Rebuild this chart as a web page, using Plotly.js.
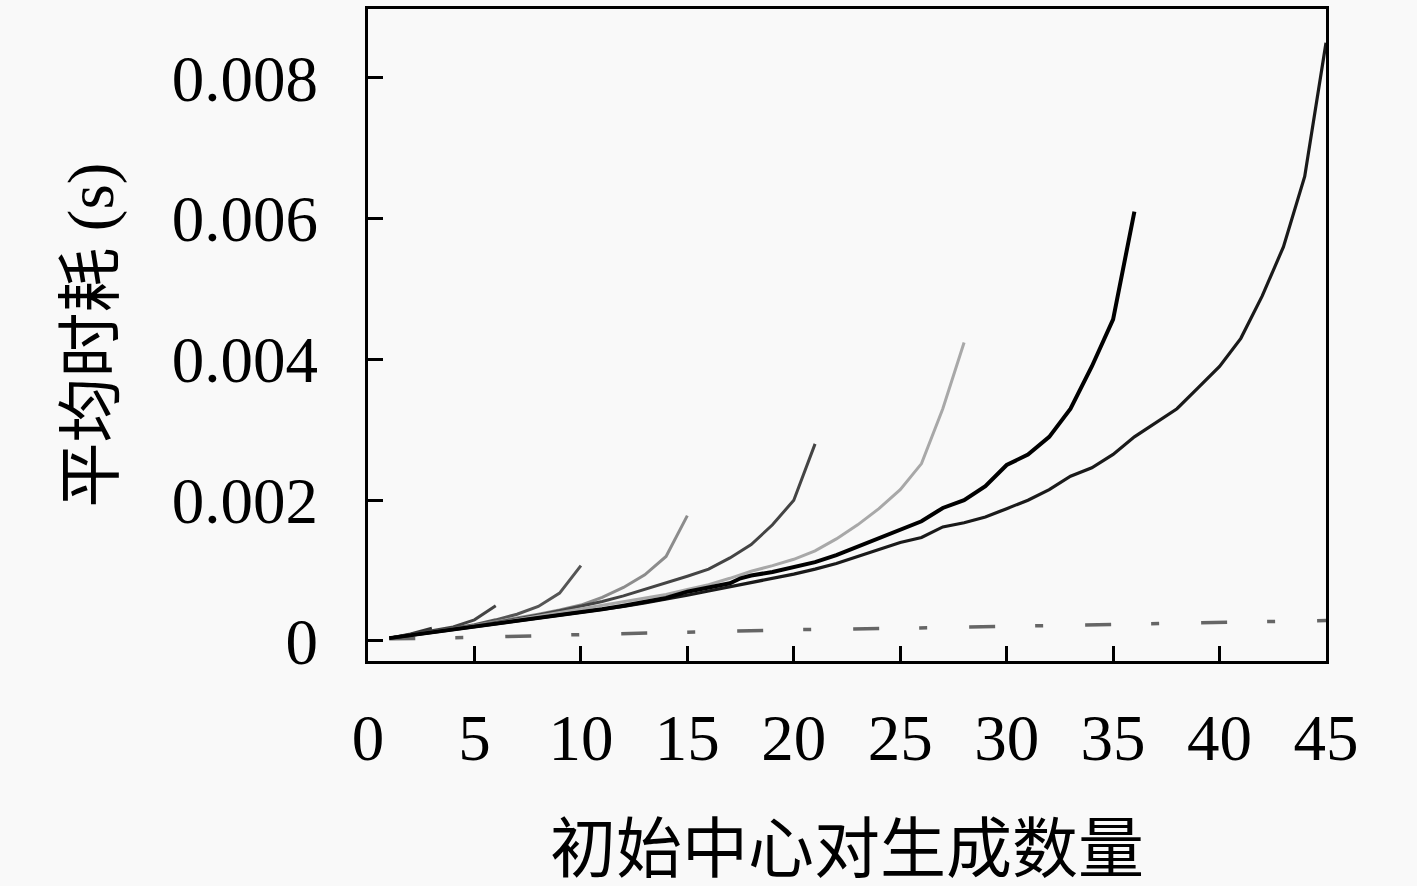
<!DOCTYPE html>
<html>
<head>
<meta charset="utf-8">
<script src="https://cdn.plot.ly/plotly-3.0.1.min.js"></script>
<style>
  html, body { margin: 0; padding: 0; background: #f9f9f9; }
  #chart { width: 1417px; height: 886px; }
</style>
</head>
<body>
<div id="chart"></div>
<script>
// x = 初始中心对数, y = 平均时耗 (s)
const X3 = [1, 2, 3];
const Y3 = [0.00004, 0.0001, 0.00018];

const X6 = [1, 2, 3, 4, 5, 6];
const Y6 = [0.00004, 0.00009, 0.00014, 0.0002, 0.0003, 0.0005];

const X10 = [1, 2, 3, 4, 5, 6, 7, 8, 9, 10];
const Y10 = [0.00004, 0.00008, 0.00013, 0.00018, 0.00023, 0.0003, 0.00038, 0.00049, 0.00068, 0.00107];

const X15 = [1, 2, 3, 4, 5, 6, 7, 8, 9, 10, 11, 12, 13, 14, 15];
const Y15 = [0.00004, 0.00008, 0.00012, 0.00017, 0.00022, 0.00027, 0.00032, 0.00038, 0.00044,
  0.00051, 0.00062, 0.00076, 0.00094, 0.0012, 0.00178];

const X21 = [1, 2, 3, 4, 5, 6, 7, 8, 9, 10, 11, 12, 13, 14, 15, 16, 17, 18, 19, 20, 21];
const Y21 = [0.00004, 0.00008, 0.00012, 0.00017, 0.00021, 0.00026, 0.00031, 0.00037, 0.00043,
  0.00049, 0.00056, 0.00064, 0.00073, 0.00082, 0.00092, 0.00102, 0.00118, 0.00137, 0.00165,
  0.002, 0.0028];

const X28 = [1, 2, 3, 4, 5, 6, 7, 8, 9, 10, 11, 12, 13, 14, 15, 16, 17, 18, 19, 20, 21, 22, 23, 24,
  25, 26, 27, 28];
const Y28 = [0.00004, 0.00008, 0.00012, 0.00016, 0.0002, 0.00025, 0.0003, 0.00035, 0.0004,
  0.00045, 0.0005, 0.00055, 0.0006, 0.00066, 0.00073, 0.0008, 0.00089, 0.00099, 0.00107,
  0.00116, 0.00128, 0.00145, 0.00165, 0.00188, 0.00215, 0.00252, 0.0033, 0.00424];

const X36 = [1, 2, 3, 4, 5, 6, 7, 8, 9, 10, 11, 12, 13, 14, 15, 16, 17, 17.5, 18, 19, 20, 21, 22,
  23, 24, 25, 26, 27, 28, 29, 30, 31, 32, 33, 34, 35, 36];
const Y36 = [0.00004, 0.00008, 0.00012, 0.00016, 0.0002, 0.00024, 0.00028, 0.00032, 0.00036,
  0.0004, 0.00045, 0.0005, 0.00055, 0.00061, 0.0007, 0.00076, 0.00082, 0.00089, 0.00093,
  0.00098, 0.00105, 0.00112, 0.00122, 0.00134, 0.00146, 0.00158, 0.0017, 0.00189, 0.002,
  0.0022, 0.0025, 0.00265, 0.0029, 0.0033, 0.0039, 0.00457, 0.0061];

const X45 = [1, 2, 3, 4, 5, 6, 7, 8, 9, 10, 11, 12, 13, 14, 15, 16, 17, 18, 19, 20, 21, 22, 23, 24,
  25, 26, 27, 28, 29, 30, 31, 32, 33, 34, 35, 36, 37, 38, 39, 40, 41, 42, 43, 44, 45];
const Y45 = [0.00004, 0.00008, 0.00012, 0.00016, 0.0002, 0.00024, 0.00028, 0.00032, 0.00036,
  0.0004, 0.00044, 0.00049, 0.00054, 0.00059, 0.00065, 0.00071, 0.00077, 0.00082, 0.00088,
  0.00095, 0.00102, 0.0011, 0.0012, 0.0013, 0.0014, 0.00147, 0.00162, 0.00168, 0.00176,
  0.00188, 0.002, 0.00215, 0.00234, 0.00246, 0.00265, 0.0029, 0.0031, 0.0033, 0.0036, 0.0039,
  0.0043, 0.0049, 0.0056, 0.0066, 0.0085];

// dash-dot baseline
const XBASE = [1, 5, 10, 15, 20, 25, 30, 35, 40, 45];
const YBASE = [0.00003, 0.00005, 0.00009, 0.00013, 0.00016, 0.00018, 0.00021, 0.00024, 0.00026, 0.00029];

const X_TICKS = [0, 5, 10, 15, 20, 25, 30, 35, 40, 45];
const Y_TICKS = [0, 0.002, 0.004, 0.006, 0.008];
const Y_TICK_TEXT = ['0', '0.002', '0.004', '0.006', '0.008'];

const FONT = 'Liberation Serif, DejaVu Serif, Noto Sans CJK SC, serif';

function line(x, y, color, width, dash) {
  return {
    x: x,
    y: y,
    type: 'scatter',
    mode: 'lines',
    line: { color: color, width: width, dash: dash || 'solid' },
    hoverinfo: 'skip',
  };
}

const data = [
  line(XBASE, YBASE, '#666666', 3.5, '26px,40px,8px,42px'),
  line(X3, Y3, '#333333', 3),
  line(X6, Y6, '#444444', 3),
  line(X10, Y10, '#555555', 3),
  line(X15, Y15, '#8c8c8c', 3),
  line(X21, Y21, '#444444', 3),
  line(X28, Y28, '#a8a8a8', 3),
  line(X45, Y45, '#1a1a1a', 3.2),
  line(X36, Y36, '#000000', 4),
];

const axisCommon = {
  showgrid: false,
  zeroline: false,
  showline: true,
  linecolor: '#000',
  linewidth: 3,
  mirror: true,
  ticks: 'inside',
  ticklen: 15,
  tickwidth: 3,
  tickcolor: '#000',
};

const layout = {
  width: 1417,
  height: 886,
  paper_bgcolor: '#f9f9f9',
  plot_bgcolor: '#f9f9f9',
  showlegend: false,
  margin: { l: 368, r: 91, t: 9, b: 225 },
  font: { family: FONT, color: '#000', size: 65 },
  xaxis: Object.assign({}, axisCommon, {
    range: [0, 45],
    tickvals: X_TICKS,
    ticklabelstandoff: 18,
    tickfont: { family: FONT, size: 65 },
    title: { text: '初始中心对生成数量', font: { family: FONT, size: 66 }, standoff: 55 },
  }),
  yaxis: Object.assign({}, axisCommon, {
    range: [-0.000285, 0.00898],
    tickvals: Y_TICKS,
    ticktext: Y_TICK_TEXT,
    ticklabelstandoff: 34,
    tickfont: { family: FONT, size: 65 },
    title: { text: '平均时耗 (s)', font: { family: FONT, size: 65 }, standoff: 38 },
  }),
};

Plotly.newPlot('chart', data, layout, { staticPlot: true });
</script>
</body>
</html>
